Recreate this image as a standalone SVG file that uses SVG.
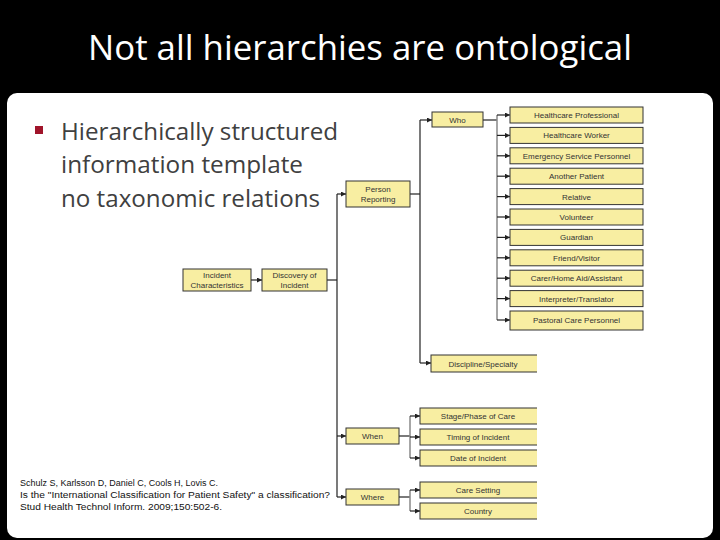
<svg xmlns="http://www.w3.org/2000/svg" width="720" height="540" viewBox="0 0 720 540">
<style>
.bx{fill:#F8EEA2;stroke:#333;stroke-width:1}
.lb{font-family:"Liberation Sans",Arial,sans-serif;font-size:8px;fill:#333;text-anchor:middle}
.ln{fill:none;stroke:#222;stroke-width:1.2}
.lg{fill:none;stroke:#888;stroke-width:1.5}
.ar{marker-end:url(#ah)}
.cit{font-family:"Liberation Sans",Arial,sans-serif;font-size:8.5px;fill:#111}
.bul{font-family:"Open Sans","Noto Sans",sans-serif;font-size:24px;fill:#404040}
</style>
<defs>
<marker id="ah" viewBox="0 0 10 10" refX="10" refY="5" markerWidth="5" markerHeight="5" markerUnits="userSpaceOnUse" orient="auto">
<path d="M0,0 L10,5 L0,10 z" fill="#222"/>
</marker>
<clipPath id="cut"><rect x="0" y="0" width="537" height="540"/></clipPath>
</defs>
<rect x="0" y="0" width="720" height="540" fill="#000"/>
<rect x="7" y="93" width="706" height="445" rx="10" fill="#fff"/>
<text x="360" y="60" font-family="Open Sans,Noto Sans,sans-serif" font-size="34" fill="#fff" text-anchor="middle" textLength="544" lengthAdjust="spacingAndGlyphs">Not all hierarchies are ontological</text>
<rect x="35" y="126" width="8" height="8" fill="#A0142A"/>
<text class="bul" x="61" y="140" textLength="277" lengthAdjust="spacingAndGlyphs">Hierarchically structured</text>
<text class="bul" x="61" y="173" textLength="242" lengthAdjust="spacingAndGlyphs">information template</text>
<text class="bul" x="61" y="207" textLength="259" lengthAdjust="spacingAndGlyphs">no taxonomic relations</text>
<g id="citation">
<text class="cit" x="20" y="486" textLength="198" lengthAdjust="spacingAndGlyphs">Schulz S, Karlsson D, Daniel C, Cools H, Lovis C.</text>
<text class="cit" x="20" y="498" textLength="310" lengthAdjust="spacingAndGlyphs">Is the "International Classification for Patient Safety" a classification?</text>
<text class="cit" x="20" y="510" textLength="202" lengthAdjust="spacingAndGlyphs">Stud Health Technol Inform. 2009;150:502-6.</text>
</g>
<g id="connectors">
<path class="ln ar" d="M251,280 H262"/>
<path class="ln" d="M327,280 H337"/>
<path class="ln" d="M337,194 V497"/>
<path class="ln ar" d="M337,194 H346"/>
<path class="ln ar" d="M337,436 H346"/>
<path class="ln ar" d="M337,497 H346"/>
<path class="ln" d="M410,194 H420"/>
<path class="ln" d="M420,120 V363"/>
<path class="ln ar" d="M420,120 H432"/>
<path class="ln ar" d="M420,363 H431"/>
<path class="ln" d="M483,120 H497"/>
<path class="lg" d="M497,115 V320"/>
<path class="ln ar" d="M497,115 H510"/>
<path class="ln ar" d="M497,135.4 H510"/>
<path class="ln ar" d="M497,155.8 H510"/>
<path class="ln ar" d="M497,176.2 H510"/>
<path class="ln ar" d="M497,196.6 H510"/>
<path class="ln ar" d="M497,217 H510"/>
<path class="ln ar" d="M497,237.4 H510"/>
<path class="ln ar" d="M497,257.8 H510"/>
<path class="ln ar" d="M497,278.2 H510"/>
<path class="ln ar" d="M497,298.6 H510"/>
<path class="ln ar" d="M497,320 H510"/>
<path class="ln" d="M399,436 H410"/>
<path class="lg" d="M410,416 V458"/>
<path class="ln ar" d="M410,416 H420"/>
<path class="ln ar" d="M410,437 H420"/>
<path class="ln ar" d="M410,458 H420"/>
<path class="ln" d="M399,497 H410"/>
<path class="lg" d="M410,490 V511"/>
<path class="ln ar" d="M410,490 H420"/>
<path class="ln ar" d="M410,511 H420"/>
</g>
<g id="n-incident"><rect class="bx" x="183" y="269" width="68" height="22"/><text class="lb" x="217" y="278">Incident</text><text class="lb" x="217" y="288">Characteristics</text></g>
<g id="n-discovery"><rect class="bx" x="262" y="269" width="65" height="22"/><text class="lb" x="294.5" y="278">Discovery of</text><text class="lb" x="294.5" y="288">Incident</text></g>
<g id="n-person"><rect class="bx" x="346" y="181" width="64" height="26"/><text class="lb" x="378" y="192">Person</text><text class="lb" x="378" y="202">Reporting</text></g>
<g id="n-who"><rect class="bx" x="432" y="112" width="51" height="15"/><text class="lb" x="457.5" y="122.5">Who</text></g>
<g id="n-hp"><rect class="bx" x="510" y="107" width="133" height="16"/><text class="lb" x="576.5" y="118">Healthcare Professional</text></g>
<g id="n-hw"><rect class="bx" x="510" y="127.4" width="133" height="16"/><text class="lb" x="576.5" y="138.4">Healthcare Worker</text></g>
<g id="n-esp"><rect class="bx" x="510" y="147.8" width="133" height="16"/><text class="lb" x="576.5" y="158.8">Emergency Service Personnel</text></g>
<g id="n-ap"><rect class="bx" x="510" y="168.2" width="133" height="16"/><text class="lb" x="576.5" y="179.2">Another Patient</text></g>
<g id="n-rel"><rect class="bx" x="510" y="188.6" width="133" height="16"/><text class="lb" x="576.5" y="199.6">Relative</text></g>
<g id="n-vol"><rect class="bx" x="510" y="209" width="133" height="16"/><text class="lb" x="576.5" y="220">Volunteer</text></g>
<g id="n-gua"><rect class="bx" x="510" y="229.4" width="133" height="16"/><text class="lb" x="576.5" y="240.4">Guardian</text></g>
<g id="n-fv"><rect class="bx" x="510" y="249.8" width="133" height="16"/><text class="lb" x="576.5" y="260.8">Friend/Visitor</text></g>
<g id="n-carer"><rect class="bx" x="510" y="270.2" width="133" height="16"/><text class="lb" x="576.5" y="281.2">Carer/Home Aid/Assistant</text></g>
<g id="n-int"><rect class="bx" x="510" y="290.6" width="133" height="16"/><text class="lb" x="576.5" y="301.6">Interpreter/Translator</text></g>
<g id="n-past"><rect class="bx" x="510" y="311" width="133" height="19"/><text class="lb" x="576.5" y="323">Pastoral Care Personnel</text></g>
<g id="n-disc" clip-path="url(#cut)"><rect class="bx" x="431" y="355" width="110" height="17"/><text class="lb" x="483" y="366.5">Discipline/Specialty</text></g>
<g id="n-when"><rect class="bx" x="346" y="428" width="53" height="16"/><text class="lb" x="372.5" y="439">When</text></g>
<g id="n-stage" clip-path="url(#cut)"><rect class="bx" x="420" y="408" width="121" height="16"/><text class="lb" x="478" y="419">Stage/Phase of Care</text></g>
<g id="n-timing" clip-path="url(#cut)"><rect class="bx" x="420" y="429" width="121" height="16"/><text class="lb" x="478" y="440">Timing of Incident</text></g>
<g id="n-date" clip-path="url(#cut)"><rect class="bx" x="420" y="450" width="121" height="16"/><text class="lb" x="478" y="461">Date of Incident</text></g>
<g id="n-where"><rect class="bx" x="346" y="489" width="53" height="16"/><text class="lb" x="372.5" y="500">Where</text></g>
<g id="n-care" clip-path="url(#cut)"><rect class="bx" x="420" y="482" width="121" height="16"/><text class="lb" x="478" y="493">Care Setting</text></g>
<g id="n-country" clip-path="url(#cut)"><rect class="bx" x="420" y="503" width="121" height="16"/><text class="lb" x="478" y="514">Country</text></g>
</svg>
